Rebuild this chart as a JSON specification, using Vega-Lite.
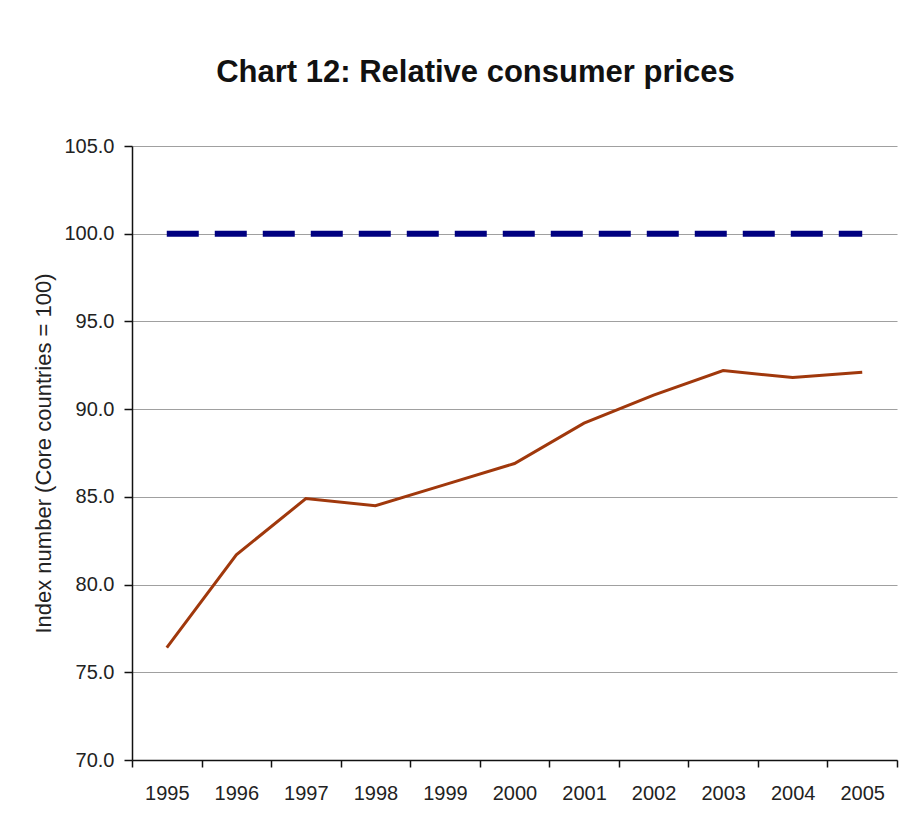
{
  "$schema": "https://vega.github.io/schema/vega-lite/v6.json",
  "autosize": {"type": "none"},
  "padding": {"left": 132, "top": 146, "right": 12, "bottom": 79},
  "width": 765,
  "height": 614,
  "background": "white",
  "title": {
    "text": "Chart 12: Relative consumer prices",
    "font": "Liberation Sans",
    "fontSize": 31,
    "fontWeight": "bold",
    "color": "#111111",
    "anchor": "middle",
    "frame": "group",
    "dx": -39,
    "baseline": "bottom",
    "offset": 16
  },
  "datasets": {
    "relative": [
      {"year": "1995", "value": 76.4},
      {"year": "1996", "value": 81.7},
      {"year": "1997", "value": 84.9},
      {"year": "1998", "value": 84.5},
      {"year": "1999", "value": 85.7},
      {"year": "2000", "value": 86.9},
      {"year": "2001", "value": 89.2},
      {"year": "2002", "value": 90.8},
      {"year": "2003", "value": 92.2},
      {"year": "2004", "value": 91.8},
      {"year": "2005", "value": 92.1}
    ],
    "core": [
      {"year": "1995", "value": 100},
      {"year": "1996", "value": 100},
      {"year": "1997", "value": 100},
      {"year": "1998", "value": 100},
      {"year": "1999", "value": 100},
      {"year": "2000", "value": 100},
      {"year": "2001", "value": 100},
      {"year": "2002", "value": 100},
      {"year": "2003", "value": 100},
      {"year": "2004", "value": 100},
      {"year": "2005", "value": 100}
    ]
  },
  "encoding": {
    "x": {
      "field": "year",
      "type": "ordinal",
      "bandPosition": 0.5,
      "scale": {"type": "band", "paddingInner": 0, "paddingOuter": 0},
      "axis": {
        "title": null,
        "labelAngle": 0,
        "tickBand": "extent",
        "grid": false,
        "domainColor": "#111111",
        "domainWidth": 1.5,
        "tickColor": "#111111",
        "tickWidth": 1.5,
        "tickSize": 7,
        "labelFont": "Liberation Sans",
        "labelFontSize": 20,
        "labelColor": "#222222",
        "labelPadding": 16
      }
    },
    "y": {
      "field": "value",
      "type": "quantitative",
      "scale": {"domain": [70, 105], "nice": false, "zero": false},
      "axis": {
        "title": "Index number (Core countries = 100)",
        "titleFont": "Liberation Sans",
        "titleFontSize": 22,
        "titleFontWeight": "normal",
        "titleColor": "#222222",
        "titlePadding": 8,
        "values": [70, 75, 80, 85, 90, 95, 100, 105],
        "format": ".1f",
        "grid": true,
        "gridColor": "#a0a0a0",
        "gridWidth": 1.2,
        "domainColor": "#111111",
        "domainWidth": 1.5,
        "tickColor": "#111111",
        "tickWidth": 1.5,
        "tickSize": 8,
        "labelFont": "Liberation Sans",
        "labelFontSize": 20,
        "labelColor": "#222222",
        "labelPadding": 10
      }
    }
  },
  "layer": [
    {
      "data": {"name": "core"},
      "mark": {"type": "line", "color": "#000080", "strokeWidth": 6, "strokeDash": [32, 16], "strokeCap": "butt"}
    },
    {
      "data": {"name": "relative"},
      "mark": {"type": "line", "color": "#A0380C", "strokeWidth": 3}
    }
  ],
  "config": {"view": {"stroke": null}}
}
